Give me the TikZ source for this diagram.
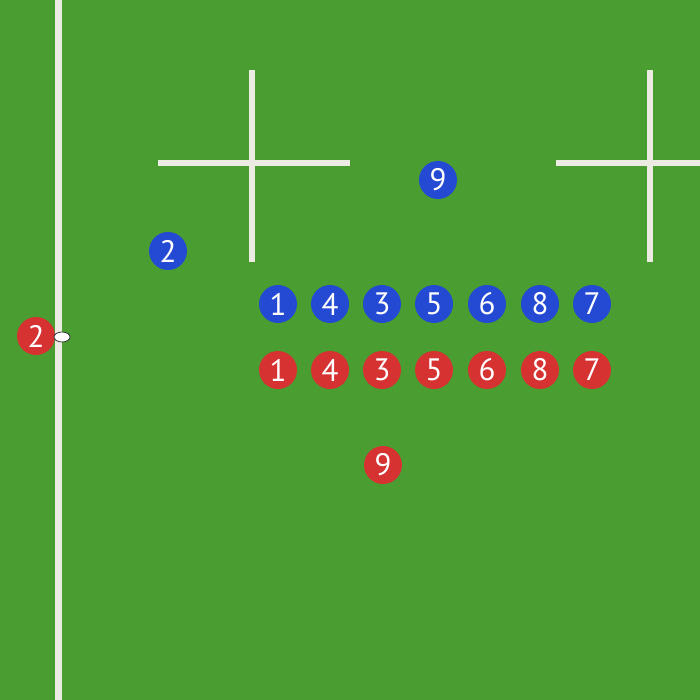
\documentclass[tikz,border=0pt]{standalone}
\usepackage{fontspec}
\setmainfont{PT Sans}
\usetikzlibrary{shapes.geometric}
\definecolor{pitch}{RGB}{74,157,48}
\definecolor{chalk}{RGB}{235,235,228}
\definecolor{blueteam}{RGB}{36,74,212}
\definecolor{redteam}{RGB}{214,50,50}
\begin{document}
\begin{tikzpicture}[x=1pt,y=-1pt,
  chalkline/.style={draw=chalk,line width=6pt},
  player/.style={circle,minimum size=38pt,inner sep=0pt,text=white,font=\fontsize{31}{31}\selectfont},
  bluep/.style={player,fill=blueteam},
  redp/.style={player,fill=redteam}]
\fill[pitch] (0,0) rectangle (700,700);
\useasboundingbox (0,0) rectangle (700,700);
% touch line
\draw[chalkline,line width=7pt] (58,0) -- (58,700);
% goal posts
\draw[chalkline] (252,70) -- (252,262);
\draw[chalkline] (158,163) -- (350,163);
\draw[chalkline] (650,70) -- (650,262);
\draw[chalkline] (556,163) -- (700,163);
% blue team
\node[bluep] (b9) at (438,180) {9};
\node[bluep] (b2) at (168,251) {2};
\foreach \n/\x in {1/278,4/330,3/382,5/434,6/487,8/540,7/592}
  \node[bluep] (b\n) at (\x,304) {\n};
% red team
\foreach \n/\x in {1/278,4/330,3/382,5/434,6/487,8/540,7/592}
  \node[redp] (r\n) at (\x,370) {\n};
\node[redp] (r9) at (383,465) {9};
\node[redp] (r2) at (36,336) {2};
% ball
\node[ellipse,draw=black!80,fill=white,line width=0.8pt,minimum width=16pt,minimum height=10pt,inner sep=0pt] (ball) at (62,337) {};
\end{tikzpicture}
\end{document}
